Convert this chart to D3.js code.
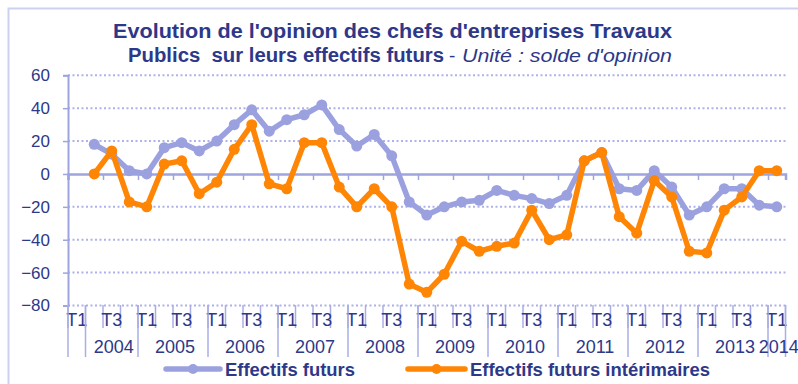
<!DOCTYPE html>
<html>
<head>
<meta charset="utf-8">
<script src="https://cdn.jsdelivr.net/npm/d3@7"></script>
<style>
  html, body { margin: 0; padding: 0; background: #ffffff; }
  svg { display: block; font-family: "Liberation Sans", Arial, sans-serif; }
  text.pre { white-space: pre; }
</style>
</head>
<body>
<svg id="chart" width="798" height="384"></svg>
<script>
// Quarters 2004 T1 .. 2014 T1
const quarters = [
  "T1","T2","T3","T4", "T1","T2","T3","T4", "T1","T2","T3","T4",
  "T1","T2","T3","T4", "T1","T2","T3","T4", "T1","T2","T3","T4",
  "T1","T2","T3","T4", "T1","T2","T3","T4", "T1","T2","T3","T4",
  "T1","T2","T3","T4", "T1"
];
// Year groups on the second label row (label, number of quarters)
const yearLabels = ["", "2004", "2005", "2006", "2007", "2008", "2009", "2010", "2011", "2012", "2013", "2014"];
const yearSizes  = [1, 3, 4, 4, 4, 4, 4, 4, 4, 4, 4, 1];

// Soldes d'opinion
const effectifsFuturs = [
  null, 18, 12, 2, 0, 16, 19, 14, 20, 30, 39, 26, 33, 36, 42, 27, 17, 24, 11, -17,
  -25, -20, -17, -16, -10, -13, -15, -18, -13, 8, 13, -9, -10, 2, -8, -25, -20, -9, -9, -19, -20
];
const effectifsInterimaires = [
  null, 0, 14, -17, -20, 6, 8, -12, -5, 15, 30, -6, -9, 19, 19, -8, -20, -9, -20, -67,
  -72, -61, -41, -47, -44, -42, -22, -40, -37, 8, 13, -26, -36, -4, -14, -47, -48, -22, -14, 2, 2
];
const yTicks = [60, 40, 20, 0, -20, -40, -60, -80];

const seriesNames = ["Effectifs futurs", "Effectifs futurs intérimaires"];
const seriesColors = ["#9ba1df", "#ff8505"];

const navy = "#2d3889";
const axisColor = "#9ea4de";
const svg = d3.select("#chart");

// outer frame
svg.append("rect")
  .attr("x", 8.5).attr("y", 8.5).attr("width", 800).attr("height", 400)
  .attr("fill", "none").attr("stroke", "#cdd1f1").attr("stroke-width", 2);

// title
const title = svg.append("g").attr("fill", navy);
title.append("text")
  .attr("x", 113).attr("y", 38)
  .attr("font-size", 20).attr("font-weight", "bold")
  .attr("textLength", 559).attr("lengthAdjust", "spacingAndGlyphs")
  .text("Evolution de l'opinion des chefs d'entreprises Travaux");
title.append("text")
  .attr("class", "pre")
  .attr("x", 128).attr("y", 62)
  .attr("font-size", 20).attr("font-weight", "bold")
  .attr("textLength", 316).attr("lengthAdjust", "spacingAndGlyphs")
  .text("Publics  sur leurs effectifs futurs");
title.append("text")
  .attr("x", 449).attr("y", 62)
  .attr("font-size", 19)
  .text("-");
title.append("text")
  .attr("x", 462).attr("y", 62)
  .attr("font-size", 19).attr("font-style", "italic")
  .attr("textLength", 210).attr("lengthAdjust", "spacingAndGlyphs")
  .text("Unité : solde d'opinion");

// scales
const x = d3.scaleBand()
  .domain(d3.range(quarters.length))
  .range([68, 785.5])
  .padding(0);
const y = d3.scaleLinear().domain([-80, 60]).range([305.5, 75.3]);
const cx = i => x(i) + x.bandwidth() / 2;

// dotted gridlines
svg.append("g")
  .selectAll("line")
  .data(yTicks.filter(v => v !== 0))
  .join("line")
  .attr("x1", 68).attr("x2", 785.5)
  .attr("y1", d => y(d)).attr("y2", d => y(d))
  .attr("stroke", "#aeb2e8").attr("stroke-width", 2)
  .attr("stroke-dasharray", "2,2.5");

// value axis
const yAxis = svg.append("g")
  .attr("transform", "translate(68,0)")
  .call(d3.axisLeft(y).tickValues(yTicks).tickSize(5).tickPadding(13).tickFormat(d3.format("d")));
yAxis.select(".domain").attr("stroke", axisColor).attr("stroke-width", 2);
yAxis.selectAll(".tick line").attr("stroke", axisColor).attr("stroke-width", 1.5);
yAxis.selectAll(".tick text")
  .attr("fill", navy).attr("font-size", 17)
  .attr("font-family", "Liberation Sans, Arial, sans-serif");

// category axis crossing at zero
const zeroAxis = svg.append("g")
  .attr("transform", `translate(0,${y(0)})`)
  .call(d3.axisBottom(d3.scaleLinear().domain([0, quarters.length]).range([68, 785.5]))
    .tickValues(d3.range(0, quarters.length + 1, 2)).tickSize(6).tickFormat(""));
zeroAxis.select(".domain").attr("stroke", axisColor).attr("stroke-width", 2.5);
zeroAxis.selectAll(".tick line").attr("stroke", axisColor).attr("stroke-width", 1.5);

// category labels: quarter row
const labelTop = 305;
const catAxis = svg.append("g");
catAxis.selectAll("line.q")
  .data(d3.range(quarters.length + 1))
  .join("line")
  .attr("class", "q")
  .attr("x1", i => i < quarters.length ? x(i) : x.range()[1])
  .attr("x2", i => i < quarters.length ? x(i) : x.range()[1])
  .attr("y1", labelTop).attr("y2", 328)
  .attr("stroke", "#a9aee6").attr("stroke-width", 1.5);
catAxis.selectAll("text.q")
  .data(quarters.map((q, i) => ({ q, i })).filter(d => d.i % 2 === 0))
  .join("text")
  .attr("class", "q")
  .attr("x", d => cx(d.i)).attr("y", 326)
  .attr("text-anchor", "middle")
  .attr("font-size", 18).attr("fill", navy)
  .text(d => d.q);

// category labels: year row
const groupStarts = d3.cumsum([0, ...yearSizes]);
const groups = yearLabels.map((label, k) => ({ label, start: groupStarts[k], end: groupStarts[k + 1] }));
const bound = i => i < quarters.length ? x(i) : x.range()[1];
catAxis.selectAll("line.y")
  .data(groupStarts)
  .join("line")
  .attr("class", "y")
  .attr("x1", bound).attr("x2", bound)
  .attr("y1", labelTop).attr("y2", 357)
  .attr("stroke", "#a9aee6").attr("stroke-width", 1.5);
catAxis.selectAll("text.y")
  .data(groups)
  .join("text")
  .attr("class", "y")
  .attr("x", d => (bound(d.start) + bound(d.end)) / 2 + 2).attr("y", 353)
  .attr("text-anchor", "middle")
  .attr("font-size", 18).attr("fill", navy)
  .text(d => d.label);

// series
const line = d3.line()
  .defined(d => d.v !== null)
  .x(d => cx(d.i))
  .y(d => y(d.v));

[effectifsFuturs, effectifsInterimaires].forEach((vals, s) => {
  const pts = vals.map((v, i) => ({ v, i }));
  const g = svg.append("g");
  g.append("path")
    .datum(pts)
    .attr("d", line)
    .attr("fill", "none")
    .attr("stroke", seriesColors[s])
    .attr("stroke-width", 5.5)
    .attr("stroke-linejoin", "round");
  g.selectAll("circle")
    .data(pts.filter(d => d.v !== null))
    .join("circle")
    .attr("cx", d => cx(d.i)).attr("cy", d => y(d.v))
    .attr("r", 5.5)
    .attr("fill", seriesColors[s]);
});

// legend
const legendItems = [
  { x1: 166, x2: 220, tx: 225, tw: 130 },
  { x1: 408, x2: 465, tx: 470, tw: 240 }
];
const legend = svg.append("g");
legendItems.forEach((it, s) => {
  legend.append("line")
    .attr("x1", it.x1).attr("x2", it.x2).attr("y1", 369).attr("y2", 369)
    .attr("stroke", seriesColors[s]).attr("stroke-width", 5.5).attr("stroke-linecap", "round");
  legend.append("circle")
    .attr("cx", (it.x1 + it.x2) / 2).attr("cy", 369).attr("r", 5)
    .attr("fill", seriesColors[s]);
  legend.append("text")
    .attr("x", it.tx).attr("y", 376)
    .attr("font-size", 18).attr("font-weight", "bold").attr("fill", navy)
    .attr("textLength", it.tw).attr("lengthAdjust", "spacingAndGlyphs")
    .text(seriesNames[s]);
});
</script>
</body>
</html>
